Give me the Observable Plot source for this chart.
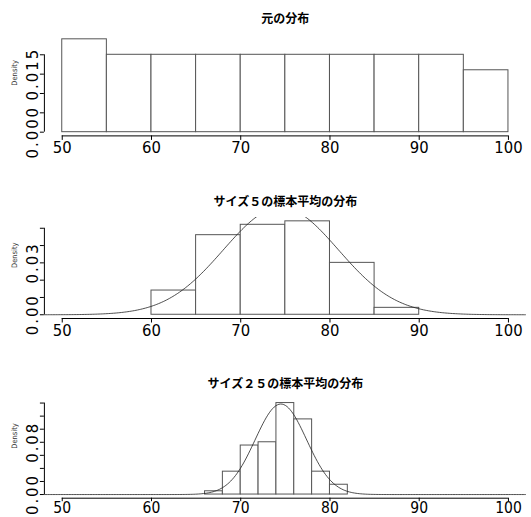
<!DOCTYPE html>
<html><head><meta charset="utf-8">
<script src="https://cdn.jsdelivr.net/npm/d3@7"></script>
<script src="https://cdn.jsdelivr.net/npm/@observablehq/plot@0.6"></script>
<style>
body{margin:0;background:#fff;}
#chart{width:531px;}
#chart svg{display:block;}
</style></head><body><div id="chart"></div>
<script>
// ---- data ----
const titles = ["元の分布", "サイズ５の標本平均の分布", "サイズ２５の標本平均の分布"];
const yLabel = "Density";
const xTicks = [50, 60, 70, 80, 90, 100];
const xTickLabels = ["50", "60", "70", "80", "90", "100"];

const breaks1 = [50, 55, 60, 65, 70, 75, 80, 85, 90, 95, 100];
const density1 = [0.024, 0.020, 0.020, 0.020, 0.020, 0.020, 0.020, 0.020, 0.020, 0.016];
const yTicks1 = [0, 0.005, 0.010, 0.015, 0.020];
const yTickLabels1 = ["0.000", "", "", "0.015", ""];

const breaks2 = [60, 65, 70, 75, 80, 85, 90];
const density2 = [0.014, 0.046, 0.052, 0.054, 0.030, 0.004];
const yTicks2 = [0, 0.01, 0.02, 0.03, 0.04, 0.05];
const yTickLabels2 = ["0.00", "", "", "0.03", "", ""];

const breaks3 = [66, 68, 70, 72, 74, 76, 78, 80, 82];
const density3 = [0.005, 0.035, 0.075, 0.080, 0.140, 0.115, 0.035, 0.015];
const yTicks3 = [0, 0.02, 0.04, 0.06, 0.08, 0.10, 0.12, 0.14];
const yTickLabels3 = ["0.00", "", "", "", "0.08", "", "", ""];

// normal curve parameters (population mean / sd), sample sizes of panels
const popMean = 74.5;
const popSd = 14.4;
const sampleSizes = [null, 5, 25];

// ---- layout (pixels) ----
const W = 531;
const panelHeights = [172, 173, 172];
const marginTops = [35.1, 45.1, 53.9];
const marginBottoms = [36.6, 27, 19.3];
const titleDy = [-16.6, -15.6, -15.4];
const xTickSizes = [4.5, 4.5, 3.5];
const xTickPads = [1, 1, 0];
const xFontSizes = [16.5, 16.5, 15.5];
const mLeft = 43.9, mRight = 5.2;
const numFont = "'Liberation Sans Narrow', 'DejaVu Sans Condensed', 'Liberation Sans', sans-serif";
const cjkFont = "'Noto Sans CJK JP', sans-serif";

const panels = [
  {breaks: breaks1, density: density1, yTicks: yTicks1, yLabels: yTickLabels1},
  {breaks: breaks2, density: density2, yTicks: yTicks2, yLabels: yTickLabels2},
  {breaks: breaks3, density: density3, yTicks: yTicks3, yLabels: yTickLabels3}
];

const xLo = xTicks[0], xHi = xTicks[xTicks.length - 1];
const xPad = 0.04 * (xHi - xLo);
const xDomain = [xLo - xPad, xHi + xPad];
const xLabMap = new Map(xTicks.map((t, i) => [t, xTickLabels[i]]));

function dnorm(x, m, s) {
  return Math.exp(-0.5 * ((x - m) / s) ** 2) / (s * Math.sqrt(2 * Math.PI));
}

const chart = document.getElementById("chart");

panels.forEach((p, k) => {
  const bins = p.density.map((d, i) => ({x1: p.breaks[i], x2: p.breaks[i + 1], y: d}));
  const ymax = d3.max(p.density);
  const yDomain = [-0.04 * ymax, 1.04 * ymax];
  const yLabMap = new Map(p.yTicks.map((t, i) => [t, p.yLabels[i]]));
  const marks = [
    Plot.rect(bins, {x1: "x1", x2: "x2", y1: 0, y2: "y", fill: "white", stroke: "#555", strokeWidth: 1})
  ];
  if (sampleSizes[k]) {
    const sd = popSd / Math.sqrt(sampleSizes[k]);
    const curve = d3.range(0, 301).map(j => {
      const x = xDomain[0] + (xDomain[1] - xDomain[0]) * j / 300;
      return {x, y: dnorm(x, popMean, sd)};
    });
    marks.push(Plot.line(curve, {x: "x", y: "y", stroke: "#222", strokeWidth: 0.8, clip: true}));
  }
  marks.push(
    Plot.ruleY([yDomain[0]], {x1: xLo, x2: xHi, stroke: "black", strokeWidth: 1}),
    Plot.ruleX([xDomain[0]], {y1: p.yTicks[0], y2: p.yTicks[p.yTicks.length - 1], stroke: "black", strokeWidth: 1}),
    Plot.axisX(xTicks, {tickSize: xTickSizes[k], tickPadding: xTickPads[k], fontSize: xFontSizes[k], fontFamily: numFont, tickFormat: d => xLabMap.get(d), label: null}),
    Plot.axisY(p.yTicks, {tickSize: 4, tickRotate: -90, tickPadding: 2, fontSize: 16.5, fontFamily: numFont, tickFormat: d => yLabMap.get(d) ?? "", label: null}),
    Plot.text([yLabel], {frameAnchor: "left", rotate: -90, dx: -27, lineAnchor: "bottom", text: d => d, fontSize: 7.5, fontFamily: numFont, fill: "#333"}),
    Plot.text([titles[k]], {frameAnchor: "top", dy: titleDy[k], lineAnchor: "middle", text: d => d, fontSize: 12, fontWeight: "bold", fontFamily: cjkFont, fill: "black"})
  );
  const svg = Plot.plot({
    width: W,
    height: panelHeights[k],
    marginLeft: mLeft,
    marginRight: mRight,
    marginTop: marginTops[k],
    marginBottom: marginBottoms[k],
    x: {domain: xDomain, axis: null},
    y: {domain: yDomain, axis: null},
    style: {background: "white", color: "black", fontFamily: numFont, overflow: "visible"},
    marks
  });
  svg.querySelectorAll('g[aria-label="y-axis tick label"]').forEach(g => g.setAttribute("letter-spacing", "2"));
  chart.appendChild(svg);
});
</script>
</body></html>
